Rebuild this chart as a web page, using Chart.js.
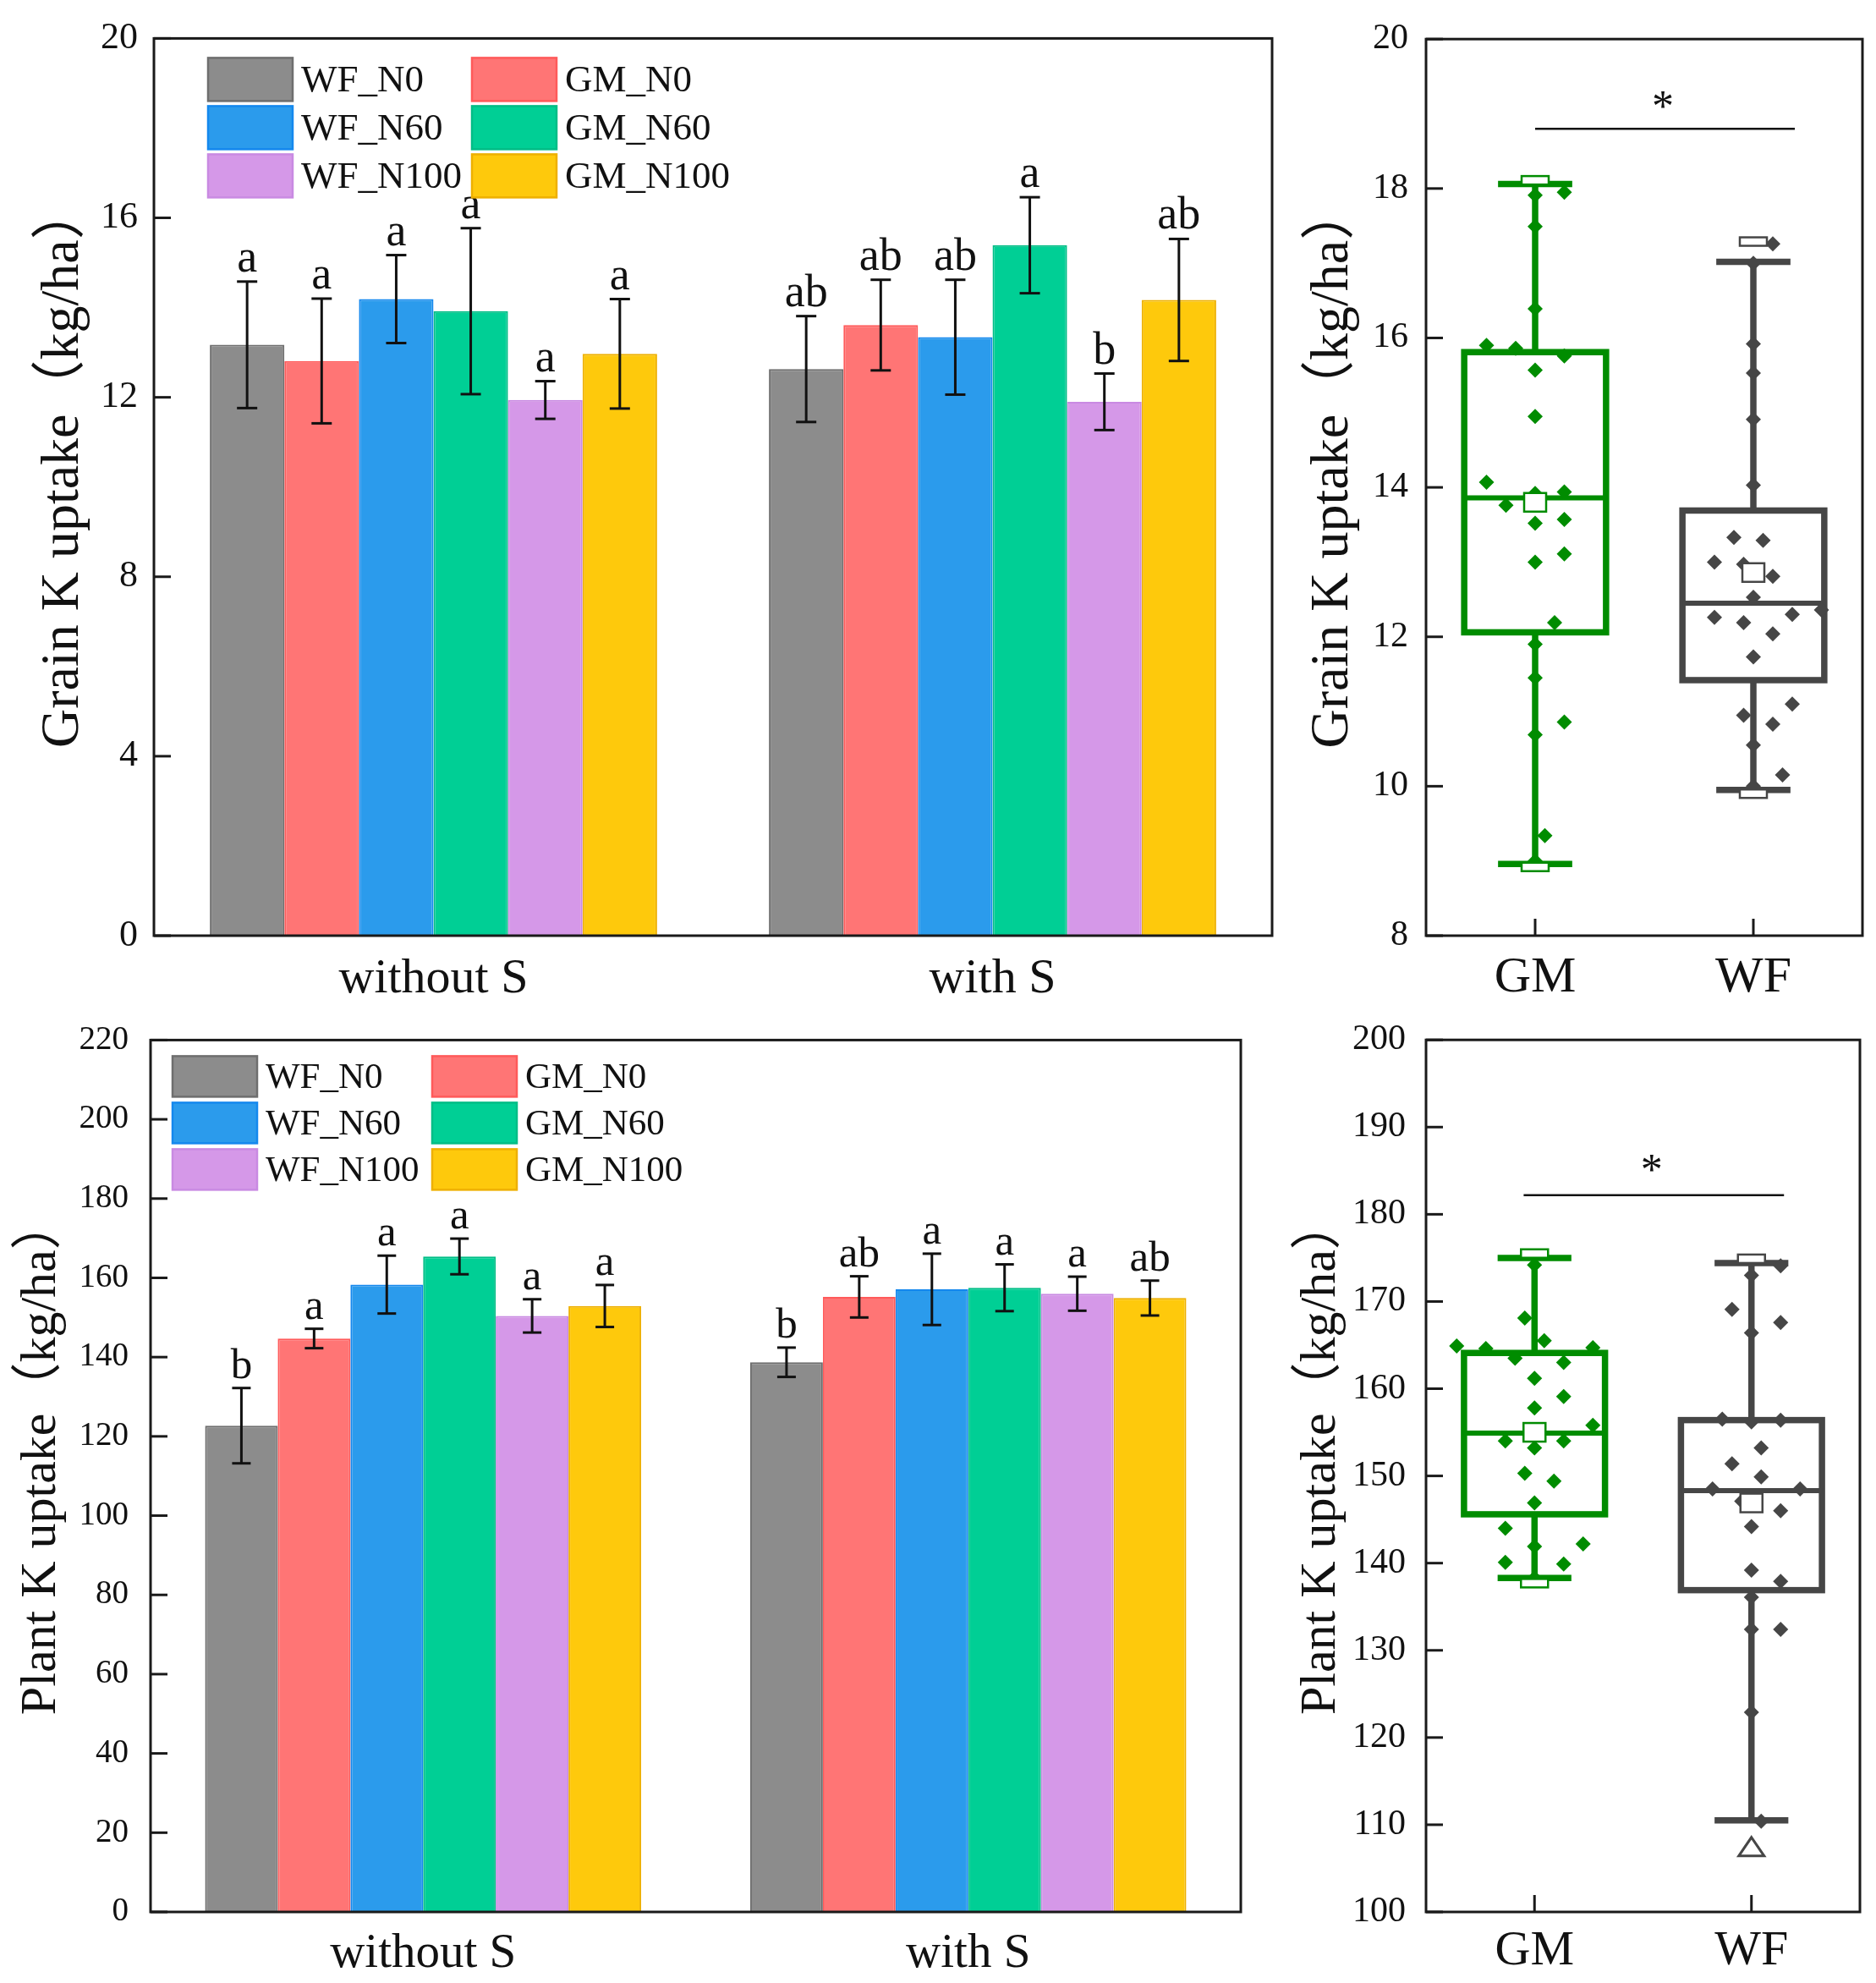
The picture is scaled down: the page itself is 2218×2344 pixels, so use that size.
<!DOCTYPE html>
<html>
<head>
<meta charset="utf-8">
<title>K uptake</title>
<script src="https://cdn.jsdelivr.net/npm/chart.js@4.4.1/dist/chart.umd.min.js"></script>
<style>
  body { margin: 0; background: #fff; }
  #page { position: relative; width: 2218px; height: 2344px; background: #fff; }
  canvas { position: absolute; }
</style>
</head>
<body>
<div id="page">
  <canvas id="grainBar" width="1520" height="1180" style="left:0;top:0;width:1520px;height:1180px"></canvas>
  <canvas id="grainBox" width="698" height="1180" style="left:1520px;top:0;width:698px;height:1180px"></canvas>
  <canvas id="plantBar" width="1520" height="1164" style="left:0;top:1180px;width:1520px;height:1164px"></canvas>
  <canvas id="plantBox" width="698" height="1164" style="left:1520px;top:1180px;width:698px;height:1164px"></canvas>
</div>
<script>
// categories
const groups = ['without S', 'with S'];
const treatments = ['WF_N0', 'GM_N0', 'WF_N60', 'GM_N60', 'WF_N100', 'GM_N100'];
const boxGroups = ['GM', 'WF'];

// Grain K uptake (kg/ha), mean / sd / letters per treatment
const grainNoS = [13.17, 12.81, 14.19, 13.92, 11.94, 12.97];
const grainNoSsd = [1.41, 1.39, 0.98, 1.85, 0.42, 1.22];
const grainNoSlet = ['a', 'a', 'a', 'a', 'a', 'a'];
const grainS = [12.63, 13.61, 13.34, 15.39, 11.90, 14.17];
const grainSsd = [1.18, 1.01, 1.28, 1.07, 0.63, 1.36];
const grainSlet = ['ab', 'ab', 'ab', 'a', 'b', 'ab'];

// Plant K uptake (kg/ha)
const plantNoS = [122.7, 144.7, 158.3, 165.4, 150.4, 152.9];
const plantNoSsd = [9.5, 2.45, 7.3, 4.5, 4.2, 5.3];
const plantNoSlet = ['b', 'a', 'a', 'a', 'a', 'a'];
const plantS = [138.7, 155.2, 157.1, 157.5, 156.0, 154.9];
const plantSsd = [3.7, 5.2, 9.0, 5.9, 4.3, 4.4];
const plantSlet = ['b', 'ab', 'a', 'a', 'a', 'ab'];

// individual observations for the box plots
const grainGM = [17.95, 17.91, 17.49, 16.39, 15.86, 15.9, 15.76, 15.57, 14.95, 13.94, 14.07, 13.92,
                 13.52, 13.57, 13.76, 13.0, 13.11, 12.19, 11.9, 11.45, 10.69, 10.86, 9.34, 9.0];
const grainWF = [17.26, 17.0, 15.92, 15.53, 14.91, 14.03, 13.33, 13.29, 12.97, 13.0, 12.81, 12.53,
                 12.36, 12.3, 12.26, 12.19, 12.04, 11.73, 11.1, 10.95, 10.83, 10.55, 10.15, 10.0];
const plantGM = [174.2, 168.1, 164.7, 163.0, 163.5, 165.5, 164.9, 164.6, 161.2, 159.1, 157.8, 155.8,
                 154.0, 154.0, 153.2, 150.3, 149.4, 146.9, 144.0, 141.9, 142.2, 139.9, 140.1, 138.3];
const plantWF = [174.1, 173.0, 169.1, 167.6, 166.4, 156.5, 156.2, 156.4, 153.2, 151.4, 149.9, 148.5,
                 148.5, 146.0, 147.1, 144.2, 139.2, 137.9, 136.1, 132.4, 132.4, 122.9, 110.4, 107.5];

// box stats: [whisker low, Q1, median, Q3, whisker high]
const grainGMbox = [8.96, 12.06, 13.86, 15.81, 18.06];
const grainWFbox = [9.95, 11.42, 12.45, 13.69, 17.02];
const grainMean = [13.8, 12.86];
const grainMax = [18.11, 17.29];
const grainMin = [8.92, 9.9];
const grainSigY = 18.8;

const plantGMbox = [138.3, 145.6, 154.9, 164.1, 175.0];
const plantWFbox = [110.5, 136.9, 148.3, 156.4, 174.4];
const plantMean = [155.0, 146.9];
const plantMax = [175.5, 174.9];
const plantMin = [137.7, 107.2];
const plantSigY = 182.2;

const barFill = ['#8c8c8c', '#ff7575', '#2b9bec', '#00cf95', '#d598e8', '#fec90c'];
const barEdge = ['#6e6e6e', '#ff5a5a', '#1488ee', '#00bd86', '#c98ae2', '#eeb000'];
const boxColor = ['#008c00', '#464646'];

Chart.defaults.font.family = "'Liberation Serif', 'Times New Roman', 'Noto Sans CJK SC', serif";
Chart.defaults.color = '#111';

function line(ctx, x1, y1, x2, y2) {
  ctx.beginPath();
  ctx.moveTo(x1, y1);
  ctx.lineTo(x2, y2);
  ctx.stroke();
}

// frame round the plot + inward ticks
const framePlugin = {
  id: 'frame',
  afterDraw(chart, args, opts) {
    const { ctx, chartArea: a, scales } = chart;
    ctx.save();
    ctx.strokeStyle = '#1a1a1a';
    ctx.lineWidth = 3;
    ctx.strokeRect(a.left, a.top, a.right - a.left, a.bottom - a.top);
    scales.y.ticks.forEach(t => {
      const py = scales.y.getPixelForValue(t.value);
      line(ctx, a.left, py, a.left + 20, py);
    });
    if (opts.xTicks) {
      scales.x.ticks.forEach(t => {
        const px = scales.x.getPixelForValue(t.value);
        line(ctx, px, a.bottom, px, a.bottom - 20);
      });
    }
    ctx.restore();
  }
};

// legend inside the plot, two columns
const barLegendPlugin = {
  id: 'barLegend',
  afterDraw(chart, args, o) {
    const { ctx, chartArea: a } = chart;
    ctx.save();
    ctx.font = o.font + "px 'Liberation Serif', 'Times New Roman', serif";
    ctx.textBaseline = 'middle';
    chart.data.datasets.forEach((ds, i) => {
      const col = i % 2, row = Math.floor(i / 2);
      const x = a.left + o.dx + col * o.col2;
      const y = a.top + o.dy + row * o.pitch;
      ctx.fillStyle = ds.backgroundColor;
      ctx.fillRect(x, y, o.w, o.h);
      ctx.strokeStyle = ds.borderColor;
      ctx.lineWidth = 2.5;
      ctx.strokeRect(x, y, o.w, o.h);
      ctx.fillStyle = '#111';
      ctx.fillText(ds.label, x + o.w + o.gap, y + o.h / 2 + 2);
    });
    ctx.restore();
  }
};

// error bars and letters over the bars
const errBarPlugin = {
  id: 'errBars',
  afterDatasetsDraw(chart, args, o) {
    const { ctx } = chart;
    const y = chart.scales.y;
    ctx.save();
    ctx.strokeStyle = '#111';
    ctx.fillStyle = '#111';
    ctx.lineWidth = 3;
    ctx.font = o.font + "px 'Liberation Serif', 'Times New Roman', serif";
    ctx.textAlign = 'center';
    ctx.textBaseline = 'alphabetic';
    chart.data.datasets.forEach((ds, di) => {
      chart.getDatasetMeta(di).data.forEach((bar, j) => {
        const v = ds.data[j], e = ds.sd[j];
        const top = y.getPixelForValue(v + e), bot = y.getPixelForValue(v - e);
        line(ctx, bar.x, top, bar.x, bot);
        line(ctx, bar.x - o.cap / 2, top, bar.x + o.cap / 2, top);
        line(ctx, bar.x - o.cap / 2, bot, bar.x + o.cap / 2, bot);
        ctx.fillText(ds.letters[j], bar.x, top - o.gap);
      });
    });
    ctx.restore();
  }
};

// box, whiskers, mean and extremes
const boxPlugin = {
  id: 'boxes',
  beforeDatasetsDraw(chart, args, o) {
    const { ctx, scales: { x, y } } = chart;
    const unit = x.getPixelForValue(2) - x.getPixelForValue(1);
    o.stats.forEach((s, i) => {
      const cx = x.getPixelForValue(i + 1);
      const half = o.boxHalf * unit, cap = o.capHalf * unit;
      ctx.save();
      ctx.strokeStyle = boxColor[i];
      ctx.lineWidth = 7.5;
      line(ctx, cx, y.getPixelForValue(s[0]), cx, y.getPixelForValue(s[1]));
      line(ctx, cx, y.getPixelForValue(s[3]), cx, y.getPixelForValue(s[4]));
      line(ctx, cx - cap, y.getPixelForValue(s[0]), cx + cap, y.getPixelForValue(s[0]));
      line(ctx, cx - cap, y.getPixelForValue(s[4]), cx + cap, y.getPixelForValue(s[4]));
      const top = y.getPixelForValue(s[3]), bot = y.getPixelForValue(s[1]);
      ctx.strokeRect(cx - half, top, 2 * half, bot - top);
      ctx.lineWidth = 6;
      line(ctx, cx - half, y.getPixelForValue(s[2]), cx + half, y.getPixelForValue(s[2]));
      ctx.restore();
    });
  },
  afterDatasetsDraw(chart, args, o) {
    const { ctx, scales: { x, y } } = chart;
    ctx.save();
    o.mean.forEach((m, i) => {
      const cx = x.getPixelForValue(i + 1);
      ctx.strokeStyle = boxColor[i];
      ctx.fillStyle = '#fff';
      ctx.lineWidth = 2.5;
      // mean square
      const py = y.getPixelForValue(m);
      ctx.fillRect(cx - 13, py - 11, 26, 22);
      ctx.strokeRect(cx - 13, py - 11, 26, 22);
      // max marker
      const pmax = y.getPixelForValue(o.max[i]);
      ctx.fillRect(cx - 16, pmax - 5, 32, 10);
      ctx.strokeRect(cx - 16, pmax - 5, 32, 10);
      // min marker
      const pmin = y.getPixelForValue(o.min[i]);
      if (o.minTriangle && o.minTriangle[i]) {
        ctx.beginPath();
        ctx.moveTo(cx, pmin - 14);
        ctx.lineTo(cx + 15, pmin + 8);
        ctx.lineTo(cx - 15, pmin + 8);
        ctx.closePath();
        ctx.fill();
        ctx.lineWidth = 3;
        ctx.stroke();
      } else {
        ctx.fillRect(cx - 16, pmin - 5, 32, 10);
        ctx.strokeRect(cx - 16, pmin - 5, 32, 10);
      }
    });
    // significance bracket
    const ly = y.getPixelForValue(o.sigY);
    ctx.strokeStyle = '#111';
    ctx.lineWidth = 2.5;
    line(ctx, x.getPixelForValue(o.sigFrom), ly, x.getPixelForValue(o.sigTo), ly);
    ctx.fillStyle = '#111';
    ctx.font = "52px 'Liberation Serif', 'Times New Roman', serif";
    ctx.textAlign = 'center';
    ctx.textBaseline = 'alphabetic';
    ctx.fillText('*', x.getPixelForValue(o.starX), y.getPixelForValue(o.starY) + 26);
    ctx.restore();
  }
};

// beeswarm offsets (x units) so that diamonds do not pile up
function swarm(vals, pxPerY, pxPerX) {
  const step = 11.5, minD = 32;
  const order = vals.map((v, i) => i).sort((a, b) => vals[a] - vals[b]);
  const placed = [];
  const off = new Array(vals.length).fill(0);
  order.forEach(i => {
    const py = vals[i] * pxPerY;
    for (let k = 0; k < 60; k++) {
      const c = k === 0 ? 0 : (k % 2 ? (k + 1) / 2 : -k / 2);
      const px = c * step;
      if (placed.every(p => Math.hypot(p.x - px, p.y - py) >= minD)) {
        placed.push({ x: px, y: py });
        off[i] = px / pxPerX;
        break;
      }
    }
  });
  return off;
}

function makeBarChart(id, noS, noSsd, noSlet, withS, withSsd, withSlet, c) {
  const datasets = treatments.map((name, i) => ({
    label: name,
    data: [noS[i], withS[i]],
    sd: [noSsd[i], withSsd[i]],
    letters: [noSlet[i], withSlet[i]],
    backgroundColor: barFill[i],
    borderColor: barEdge[i],
    borderWidth: 2,
    categoryPercentage: 0.8,
    barPercentage: 1.0
  }));
  return new Chart(document.getElementById(id), {
    type: 'bar',
    data: { labels: groups, datasets: datasets },
    options: {
      responsive: false,
      animation: false,
      devicePixelRatio: 1,
      layout: { padding: { top: c.top, right: c.right, left: 0, bottom: 0 } },
      plugins: {
        legend: { display: false },
        tooltip: { enabled: false },
        barLegend: c.legend,
        errBars: c.err,
        frame: { xTicks: false }
      },
      scales: {
        x: {
          grid: { display: false, drawTicks: false },
          border: { display: false },
          ticks: { font: { size: c.xFont }, padding: c.xPad, color: '#111' },
          afterFit: s => { s.height = c.xHeight; }
        },
        y: {
          min: c.min, max: c.max,
          grid: { display: false, drawTicks: false },
          border: { display: false },
          ticks: { stepSize: c.step, font: { size: c.yFont }, padding: c.yPad, color: '#111' },
          title: { display: true, text: c.title, color: '#111',
                   font: { size: c.titleFont }, padding: { top: c.titlePad, bottom: 0 } },
          afterFit: s => { s.width = c.yWidth; }
        }
      }
    },
    plugins: [errBarPlugin, barLegendPlugin, framePlugin]
  });
}

function makeBoxChart(id, gm, wf, gmBox, wfBox, mean, max, min, sigY, c) {
  const offG = swarm(gm, c.pxPerY, c.pxPerX);
  const offW = swarm(wf, c.pxPerY, c.pxPerX);
  return new Chart(document.getElementById(id), {
    type: 'scatter',
    data: {
      datasets: [
        { label: 'GM', data: gm.map((v, k) => ({ x: 1 + offG[k], y: v })),
          backgroundColor: boxColor[0], borderWidth: 0, pointStyle: 'rectRot', pointRadius: 9 },
        { label: 'WF', data: wf.map((v, k) => ({ x: 2 + offW[k], y: v })),
          backgroundColor: boxColor[1], borderWidth: 0, pointStyle: 'rectRot', pointRadius: 9 }
      ]
    },
    options: {
      responsive: false,
      animation: false,
      devicePixelRatio: 1,
      layout: { padding: { top: c.top, right: c.right, left: 0, bottom: 0 } },
      plugins: {
        legend: { display: false },
        tooltip: { enabled: false },
        frame: { xTicks: true },
        boxes: {
          stats: [gmBox, wfBox], mean: mean, max: max, min: min,
          boxHalf: 0.325, capHalf: 0.17, minTriangle: c.minTriangle,
          sigY: sigY, sigFrom: c.sigFrom, sigTo: c.sigTo, starX: c.starX, starY: c.starY
        }
      },
      scales: {
        x: {
          type: 'linear', min: 0.5, max: 2.5,
          grid: { display: false, drawTicks: false },
          border: { display: false },
          afterBuildTicks: s => { s.ticks = [{ value: 1 }, { value: 2 }]; },
          ticks: { font: { size: c.xFont }, padding: c.xPad, color: '#111',
                   callback: v => boxGroups[v - 1] },
          afterFit: s => { s.height = c.xHeight; }
        },
        y: {
          min: c.min, max: c.max,
          grid: { display: false, drawTicks: false },
          border: { display: false },
          ticks: { stepSize: c.step, font: { size: c.yFont }, padding: c.yPad, color: '#111' },
          title: { display: true, text: c.title, color: '#111',
                   font: { size: c.titleFont }, padding: { top: c.titlePad, bottom: 0 } },
          afterFit: s => { s.width = c.yWidth; }
        }
      }
    },
    plugins: [boxPlugin, framePlugin]
  });
}

// leading spaces balance the blank half of the full-width closing bracket
const grainTitle = '   Grain K uptake（kg/ha）';
const plantTitle = '   Plant K uptake（kg/ha）';

makeBarChart('grainBar', grainNoS, grainNoSsd, grainNoSlet, grainS, grainSsd, grainSlet, {
  top: 41, right: 16, yWidth: 182, xHeight: 74, min: 0, max: 20, step: 4,
  yFont: 44, yPad: 19, xFont: 58, xPad: 17,
  title: grainTitle, titleFont: 64, titlePad: 37,
  legend: { dx: 64, dy: 23, w: 100, h: 51, pitch: 57, col2: 312, gap: 10, font: 45 },
  err: { cap: 24, font: 54, gap: 12 }
});

makeBoxChart('grainBox', grainGM, grainWF, grainGMbox, grainWFbox, grainMean, grainMax, grainMin, grainSigY, {
  top: 41, right: 16, yWidth: 166, xHeight: 74, min: 8, max: 20, step: 2,
  yFont: 42, yPad: 21, xFont: 60, xPad: 14,
  title: grainTitle, titleFont: 64, titlePad: 18,
  pxPerY: 1065 / 12, pxPerX: 516 / 2,
  sigFrom: 1.0, sigTo: 2.19, starX: 1.585, starY: 19.2
});

makeBarChart('plantBar', plantNoS, plantNoSsd, plantNoSlet, plantS, plantSsd, plantSlet, {
  top: 38, right: 53, yWidth: 178, xHeight: 84, min: 0, max: 220, step: 20,
  yFont: 39, yPad: 26, xFont: 57, xPad: 16,
  title: plantTitle, titleFont: 60, titlePad: 13,
  legend: { dx: 26, dy: 19, w: 100, h: 48, pitch: 55, col2: 307, gap: 10, font: 43 },
  err: { cap: 22, font: 51, gap: 12 }
});

makeBoxChart('plantBox', plantGM, plantWF, plantGMbox, plantWFbox, plantMean, plantMax, plantMin, plantSigY, {
  top: 38, right: 19, yWidth: 166, xHeight: 84, min: 100, max: 200, step: 10,
  yFont: 42, yPad: 24, xFont: 58, xPad: 12,
  title: plantTitle, titleFont: 60, titlePad: 6,
  pxPerY: 1042 / 100, pxPerX: 513 / 2, minTriangle: [false, true],
  sigFrom: 0.95, sigTo: 2.15, starX: 1.54, starY: 186.0
});
</script>
</body>
</html>
